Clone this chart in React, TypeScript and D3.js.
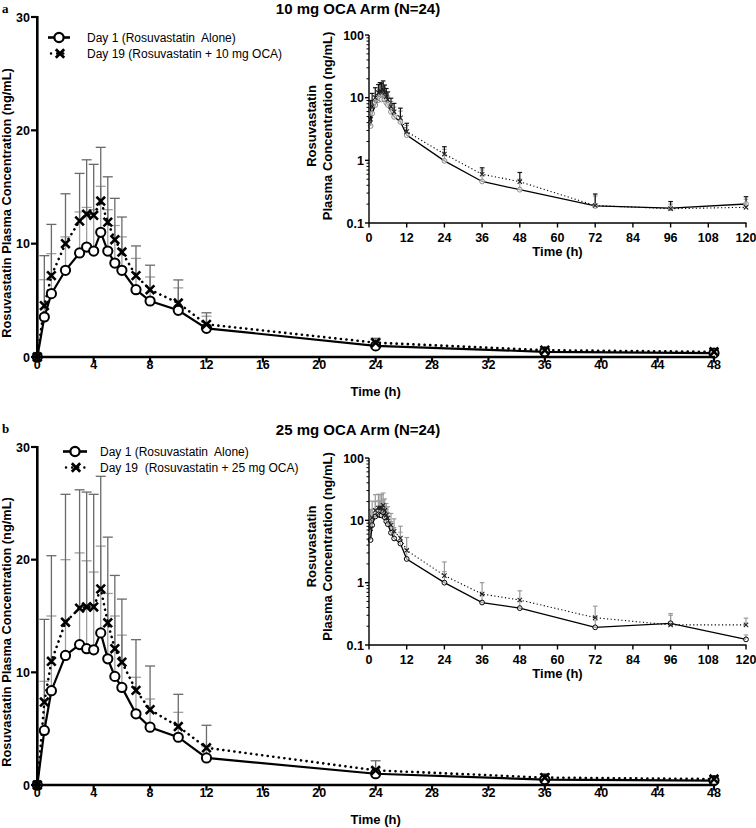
import React from 'react';
import * as d3 from 'd3';

const times = [0, 0.5, 1, 2, 3, 3.5, 4, 4.5, 5, 5.5, 6, 7, 8, 10, 12, 24, 36, 48, 72, 96, 120];
const xTicksMain = [0, 4, 8, 12, 16, 20, 24, 28, 32, 36, 40, 44, 48];
const yTicksMain = [0, 10, 20, 30];
const xTicksInset = [0, 12, 24, 36, 48, 60, 72, 84, 96, 108, 120];
const yTicksInset = [0.1, 1, 10, 100];
const yTickLabelsInset = ['0.1', '1', '10', '100'];

const aDay1 = [0, 3.53, 5.59, 7.65, 9.18, 9.7, 9.35, 11.0, 9.35, 8.29, 7.65, 5.94, 4.94, 4.12, 2.53, 0.98, 0.46, 0.34, 0.187, 0.173, 0.201];
const aDay19 = [0, 4.53, 7.18, 10.0, 12.0, 12.6, 12.5, 13.76, 11.9, 10.35, 9.26, 7.18, 5.94, 4.76, 2.88, 1.26, 0.6, 0.456, 0.19, 0.169, 0.178];
const aDay1Upper = [0, 6.82, 9.12, 10.6, 12.8, 13.2, 13.0, 15.06, 13.0, 11.6, 10.6, 8.7, 7.06, 6.1, 3.6, 1.5, 0.7, 0.5, 0.27, 0.2, 0.24];
const aDay19Upper = [0, 8.94, 11.7, 14.4, 16.2, 17.4, 17.0, 18.5, 15.9, 14.0, 12.35, 9.8, 8.1, 6.8, 3.9, 1.65, 0.76, 0.64, 0.29, 0.22, 0.263];

const bDay1 = [0, 4.84, 8.37, 11.5, 12.46, 12.1, 12.0, 13.5, 11.2, 9.64, 8.66, 6.32, 5.13, 4.24, 2.4, 1.0, 0.48, 0.39, 0.192, 0.223, 0.123];
const bDay19 = [0, 7.36, 10.98, 14.45, 15.7, 15.8, 15.8, 17.4, 14.4, 12.1, 10.9, 8.4, 6.68, 5.19, 3.3, 1.3, 0.657, 0.527, 0.274, 0.21, 0.21];
const bDay1Upper = [0, 9.2, 15.0, 20.0, 20.6, 19.9, 18.9, 21.2, 17.0, 15.0, 13.3, 9.56, 7.63, 6.45, 3.4, 1.5, 0.65, 0.5, 0.25, 0.32, 0.145];
const bDay19Upper = [0, 14.7, 20.35, 25.8, 26.2, 26.0, 25.8, 27.4, 22.0, 18.6, 16.5, 12.9, 10.56, 8.05, 5.3, 2.15, 1.0, 0.74, 0.42, 0.3, 0.27];

const FONT = 'Liberation Sans, Arial, Helvetica, sans-serif';

type PanelProps = {
  letter: string;
  letterY: number;
  title: string;
  titleY: number;
  mainY0: number;
  mainY30: number;
  insetY100: number;
  insetY01: number;
  legendY1: number;
  legendY2: number;
  legendMarkX0: number;
  legendMarkX1: number;
  legendTextX: number;
  legend1: string;
  legend2: string;
  day1: number[];
  day19: number[];
  day1Up: number[];
  day19Up: number[];
  insetCircleColor: string;
  insetBar1Color: string;
  insetBar19Color: string;
  insetTitleShift: number;
};

const XMark = ({ x, y, s, w, color }: { x: number; y: number; s: number; w: number; color: string }) => (
  <path d={`M${x - s},${y - s}L${x + s},${y + s}M${x - s},${y + s}L${x + s},${y - s}`} stroke={color} strokeWidth={w} fill="none" />
);

const Panel = (p: PanelProps) => {
  const xm = d3.scaleLinear().domain([0, 48]).range([37.3, 714]);
  const ym = d3.scaleLinear().domain([0, 30]).range([p.mainY0, p.mainY30]);
  const xi = d3.scaleLinear().domain([0, 120]).range([369, 746]);
  const yi = d3.scaleLog().domain([0.1, 100]).range([p.insetY01, p.insetY100]);

  const mainIdx = times.map((_, i) => i).filter((i) => times[i] <= 48);
  const insetIdx = times.map((_, i) => i).filter((i) => times[i] > 0);

  const lineMain = (vals: number[]) =>
    d3.line<number>().x((i) => xm(times[i])).y((i) => ym(vals[i]))(mainIdx) || '';
  const lineInset = (vals: number[]) =>
    d3.line<number>().x((i) => xi(times[i])).y((i) => yi(vals[i]))(insetIdx) || '';

  const minorTicks: number[] = [];
  [0.1, 1, 10].forEach((d) => {
    for (let k = 2; k <= 9; k++) minorTicks.push(d * k);
  });

  const insetMidY = (p.insetY100 + p.insetY01) / 2 + p.insetTitleShift;
  const mainMidY = (p.mainY0 + p.mainY30) / 2 + 16;

  return (
    <g style={{ fontFamily: FONT }}>
      <text x={2} y={p.letterY} style={{ fontFamily: "'Liberation Serif', 'Times New Roman', serif" }} fontWeight="bold" fontSize={13}>
        {p.letter}
      </text>
      <text x={358} y={p.titleY} textAnchor="middle" fontWeight="bold" fontSize={15}>
        {p.title}
      </text>

      {/* main error bars */}
      {mainIdx.filter((i) => times[i] > 0).map((i) => (
        <g key={'e1' + i} stroke="#a0a0a0" strokeWidth={1.3}>
          <line x1={xm(times[i])} x2={xm(times[i])} y1={ym(p.day1[i])} y2={ym(p.day1Up[i])} />
          <line x1={xm(times[i]) - 5} x2={xm(times[i]) + 5} y1={ym(p.day1Up[i])} y2={ym(p.day1Up[i])} />
        </g>
      ))}
      {mainIdx.filter((i) => times[i] > 0).map((i) => (
        <g key={'e19' + i} stroke="#6a6a6a" strokeWidth={1.3}>
          <line x1={xm(times[i])} x2={xm(times[i])} y1={ym(p.day19[i])} y2={ym(p.day19Up[i])} />
          <line x1={xm(times[i]) - 5} x2={xm(times[i]) + 5} y1={ym(p.day19Up[i])} y2={ym(p.day19Up[i])} />
        </g>
      ))}

      {/* main lines */}
      <path d={lineMain(p.day19)} fill="none" stroke="#000" strokeWidth={2.6} strokeDasharray="0.1 5.5" strokeLinecap="round" />
      <path d={lineMain(p.day1)} fill="none" stroke="#000" strokeWidth={2.2} />
      {mainIdx.map((i) => (
        <circle key={'c' + i} cx={xm(times[i])} cy={ym(p.day1[i])} r={4.6} fill="#fff" stroke="#000" strokeWidth={2} />
      ))}
      {mainIdx.map((i) => (
        <XMark key={'x' + i} x={xm(times[i])} y={ym(p.day19[i])} s={4.3} w={2.6} color="#000" />
      ))}

      {/* main axes */}
      <line x1={37.3} x2={37.3} y1={p.mainY30 - 1} y2={p.mainY0 + 1} stroke="#000" strokeWidth={2.6} />
      <line x1={36} x2={xm(48) + 1} y1={p.mainY0} y2={p.mainY0} stroke="#000" strokeWidth={2.6} />
      {yTicksMain.map((t) => (
        <g key={'ym' + t}>
          <line x1={31} x2={37.3} y1={ym(t)} y2={ym(t)} stroke="#000" strokeWidth={2.2} />
          <text x={30} y={ym(t) + 4.5} textAnchor="end" fontWeight="bold" fontSize={12.5}>
            {t}
          </text>
        </g>
      ))}
      {xTicksMain.map((t) => (
        <g key={'xm' + t}>
          <line x1={xm(t)} x2={xm(t)} y1={p.mainY0} y2={p.mainY0 + 5.5} stroke="#000" strokeWidth={2.2} />
          <text x={xm(t)} y={p.mainY0 + 12} textAnchor="middle" fontWeight="bold" fontSize={12.5}>
            {t}
          </text>
        </g>
      ))}
      <text x={xm(24)} y={p.mainY0 + 39} textAnchor="middle" fontWeight="bold" fontSize={13}>
        Time (h)
      </text>
      <text transform={`translate(10.5,${mainMidY}) rotate(-90)`} textAnchor="middle" fontWeight="bold" fontSize={12.8}>
        Rosuvastatin Plasma Concentration (ng/mL)
      </text>

      {/* legend */}
      <line x1={p.legendMarkX0} x2={p.legendMarkX1} y1={p.legendY1} y2={p.legendY1} stroke="#000" strokeWidth={2.6} />
      <circle cx={(p.legendMarkX0 + p.legendMarkX1) / 2} cy={p.legendY1} r={4.6} fill="#fff" stroke="#000" strokeWidth={2.2} />
      <line x1={p.legendMarkX0 + 3} x2={p.legendMarkX1 - 2} y1={p.legendY2} y2={p.legendY2} stroke="#000" strokeWidth={2.4} strokeDasharray="0.1 6" strokeLinecap="round" />
      <XMark x={(p.legendMarkX0 + p.legendMarkX1) / 2 + 1} y={p.legendY2} s={4.2} w={2.8} color="#000" />
      <text x={p.legendTextX} y={p.legendY1 + 4.3} fontSize={12} style={{ whiteSpace: 'pre' }}>
        {p.legend1}
      </text>
      <text x={p.legendTextX} y={p.legendY2 + 4.3} fontSize={12} style={{ whiteSpace: 'pre' }}>
        {p.legend2}
      </text>

      {/* inset error bars */}
      {insetIdx.map((i) => (
        <g key={'ie1' + i} stroke={p.insetBar1Color} strokeWidth={1.1}>
          <line x1={xi(times[i])} x2={xi(times[i])} y1={yi(p.day1[i])} y2={yi(p.day1Up[i])} />
          <line x1={xi(times[i]) - 2.3} x2={xi(times[i]) + 2.3} y1={yi(p.day1Up[i])} y2={yi(p.day1Up[i])} />
        </g>
      ))}
      {insetIdx.map((i) => (
        <g key={'ie19' + i} stroke={p.insetBar19Color} strokeWidth={1.2}>
          <line x1={xi(times[i])} x2={xi(times[i])} y1={yi(p.day19[i])} y2={yi(p.day19Up[i])} />
          <line x1={xi(times[i]) - 2.3} x2={xi(times[i]) + 2.3} y1={yi(p.day19Up[i])} y2={yi(p.day19Up[i])} />
        </g>
      ))}
      <path d={lineInset(p.day19)} fill="none" stroke="#000" strokeWidth={1.1} strokeDasharray="1.2 2.4" />
      <path d={lineInset(p.day1)} fill="none" stroke="#000" strokeWidth={1.3} />
      {insetIdx.map((i) => (
        <circle key={'ic' + i} cx={xi(times[i])} cy={yi(p.day1[i])} r={2.4} fill="#fff" fillOpacity={0.6} stroke={p.insetCircleColor} strokeWidth={1} />
      ))}
      {insetIdx.map((i) => (
        <XMark key={'ix' + i} x={xi(times[i])} y={yi(p.day19[i])} s={2.2} w={1.1} color="#222" />
      ))}

      {/* inset axes */}
      <line x1={369} x2={369} y1={p.insetY100} y2={p.insetY01} stroke="#000" strokeWidth={1.4} />
      <line x1={369} x2={746.5} y1={p.insetY01} y2={p.insetY01} stroke="#000" strokeWidth={1.4} />
      {yTicksInset.map((t, k) => (
        <g key={'yi' + t}>
          <line x1={365} x2={369} y1={yi(t)} y2={yi(t)} stroke="#000" strokeWidth={1.4} />
          <text x={364} y={yi(t) + 4.5} textAnchor="end" fontWeight="bold" fontSize={12.5}>
            {yTickLabelsInset[k]}
          </text>
        </g>
      ))}
      {minorTicks.map((t) => (
        <line key={'mi' + t} x1={366.5} x2={369} y1={yi(t)} y2={yi(t)} stroke="#000" strokeWidth={1} />
      ))}
      {xTicksInset.map((t) => (
        <g key={'xi' + t}>
          <line x1={xi(t)} x2={xi(t)} y1={p.insetY01} y2={p.insetY01 + 4.5} stroke="#000" strokeWidth={1.4} />
          <text x={xi(t)} y={p.insetY01 + 18.5} textAnchor="middle" fontWeight="bold" fontSize={12.5}>
            {t}
          </text>
        </g>
      ))}
      <text x={xi(60)} y={p.insetY01 + 33} textAnchor="middle" fontWeight="bold" fontSize={13}>
        Time (h)
      </text>
      <text transform={`translate(316,${insetMidY}) rotate(-90)`} textAnchor="middle" fontWeight="bold" fontSize={13}>
        Rosuvastatin
      </text>
      <text transform={`translate(332,${insetMidY}) rotate(-90)`} textAnchor="middle" fontWeight="bold" fontSize={13}>
        Plasma Concentration (ng/mL)
      </text>
    </g>
  );
};

export default function App() {
  return (
    <svg
      width={756}
      height={828}
      viewBox="0 0 756 828"
      style={{ position: 'absolute', left: 0, top: 0, background: '#fff' }}
    >
      <rect x={0} y={0} width={756} height={828} fill="#fff" />
      <Panel
        letter="a"
        letterY={12.5}
        title="10 mg OCA Arm (N=24)"
        titleY={14}
        mainY0={357}
        mainY30={17}
        insetY100={35}
        insetY01={223}
        legendY1={37.5}
        legendY2={53.5}
        legendMarkX0={48}
        legendMarkX1={70}
        legendTextX={87}
        legend1="Day 1 (Rosuvastatin  Alone)"
        legend2="Day 19 (Rosuvastatin + 10 mg OCA)"
        day1={aDay1}
        day19={aDay19}
        day1Up={aDay1Upper}
        day19Up={aDay19Upper}
        insetCircleColor="#8a8a8a"
        insetBar1Color="#999"
        insetBar19Color="#111"
        insetTitleShift={-3}
      />
      <Panel
        letter="b"
        letterY={433}
        title="25 mg OCA Arm (N=24)"
        titleY={435}
        mainY0={785}
        mainY30={447}
        insetY100={458}
        insetY01={645}
        legendY1={451.5}
        legendY2={467.5}
        legendMarkX0={63}
        legendMarkX1={87}
        legendTextX={100}
        legend1="Day 1 (Rosuvastatin  Alone)"
        legend2="Day 19  (Rosuvastatin + 25 mg OCA)"
        day1={bDay1}
        day19={bDay19}
        day1Up={bDay1Upper}
        day19Up={bDay19Upper}
        insetCircleColor="#000"
        insetBar1Color="#9a9a9a"
        insetBar19Color="#9a9a9a"
        insetTitleShift={-5}
      />
    </svg>
  );
}
